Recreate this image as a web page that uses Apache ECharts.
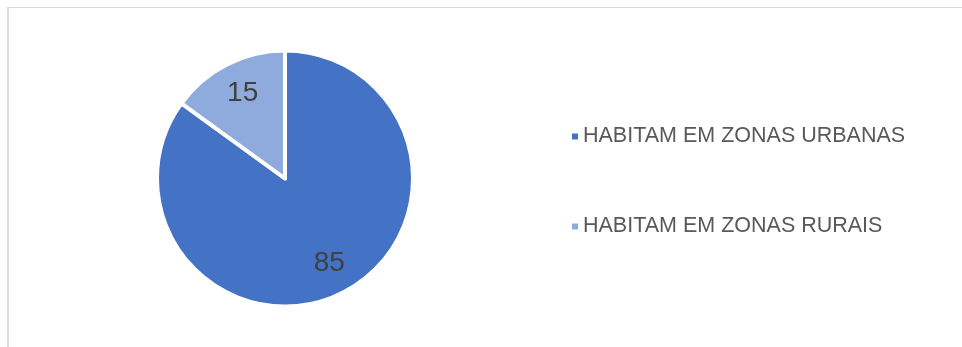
<!DOCTYPE html>
<html>
<head>
<meta charset="utf-8">
<style>
  html, body { margin: 0; padding: 0; background: #ffffff; }
  #chart { width: 962px; height: 347px; }
</style>
<script src="https://cdn.jsdelivr.net/npm/echarts@6/dist/echarts.min.js"></script>
</head>
<body>
<div id="chart"></div>
<script>
// Population split by area of residence
const categories = ['HABITAM EM ZONAS URBANAS', 'HABITAM EM ZONAS RURAIS'];
const values = [85, 15];
const colors = ['#4472C4', '#8FAADC'];

const pieCenter = [285, 178.5];

const chart = echarts.init(document.getElementById('chart'), null, { renderer: 'canvas' });

chart.setOption({
  animation: false,
  backgroundColor: '#ffffff',
  graphic: [
    // frame: top and left edges
    { type: 'rect', shape: { x: 7, y: 7, width: 960, height: 1 }, style: { fill: '#d9d9d9' }, silent: true },
    { type: 'rect', shape: { x: 7, y: 7, width: 2, height: 345 }, style: { fill: '#d9d9d9' }, silent: true }
  ],
  legend: {
    orient: 'vertical',
    left: 572,
    top: 125.5,
    padding: 0,
    icon: 'rect',
    itemWidth: 6,
    itemHeight: 6,
    itemGap: 68,
    selectedMode: false,
    itemStyle: { borderWidth: 0 },
    data: categories,
    textStyle: {
      fontFamily: 'Liberation Sans, Arial, sans-serif',
      fontSize: 21.5,
      lineHeight: 21.5,
      color: '#595959'
    }
  },
  series: [
    {
      type: 'pie',
      center: pieCenter,
      radius: [0, 128],
      startAngle: 90,
      clockwise: true,
      silent: true,
      itemStyle: { borderColor: '#ffffff', borderWidth: 4 },
      label: { show: false },
      labelLine: { show: false },
      data: categories.map((name, i) => ({ name: name, value: values[i], itemStyle: { color: colors[i] } }))
    },
    {
      // label ring: places the value labels further out inside each slice
      type: 'pie',
      center: pieCenter,
      radius: [57, 128],
      startAngle: 90,
      clockwise: true,
      silent: true,
      legendHoverLink: false,
      itemStyle: { color: 'transparent', borderWidth: 0 },
      label: {
        show: true,
        position: 'inside',
        formatter: '{c}',
        offset: [1, 0],
        fontFamily: 'Liberation Sans, Arial, sans-serif',
        fontSize: 28,
        color: '#404040'
      },
      labelLine: { show: false },
      data: categories.map((name, i) => ({ name: name, value: values[i], itemStyle: { color: 'transparent' } }))
    }
  ]
});
</script>
</body>
</html>
